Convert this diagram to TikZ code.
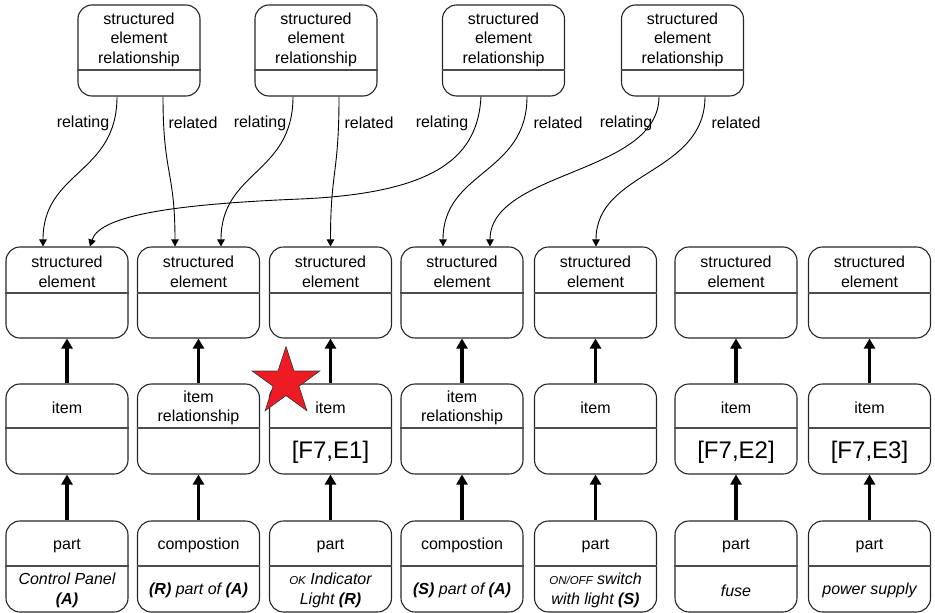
\documentclass[tikz,border=0pt]{standalone}
\usepackage{fontspec}
\setmainfont{Liberation Sans}
\usetikzlibrary{arrows.meta,calc}

\definecolor{starred}{HTML}{ED1C24}

\tikzset{
  box/.style={draw=black!85, line width=1.1pt, rounded corners=14pt,
    minimum width=122pt, inner sep=0pt},
  divider/.style={draw=black!70, line width=1.1pt},
  lbl/.style={align=center, inner sep=0pt, font=\fontsize{16}{19.5}\selectfont},
  link/.style={draw=black, line width=0.9pt, -{Triangle[length=7pt,width=7.5pt]}},
  typeof/.style={draw=black, line width=3.2pt, -{Triangle[length=10pt,width=11pt]}},
  edgelbl/.style={inner sep=0pt, font=\fontsize{16}{19.5}\selectfont},
}

% class box: name, centre x, top, divider, bottom, upper text, lower text
\newcommand\classbox[7]{%
  \node[box, minimum height={#5-#3}] (#1) at (#2,{(#3+#5)/2}) {};
  \draw[divider] (#1.west |- 0,#4) -- (#1.east |- 0,#4);
  \node[lbl] (#1-u) at (#2,{(#3+#4)/2+2}) {#6};
  \node[lbl] (#1-l) at (#2,{(#4+#5)/2+1.5}) {#7};
}
% curved role link from a relationship to a structured element
\newcommand\rolelink[2]{%
  \draw[link] (#1) .. controls ($(#1)+(0,78)$) and ($(#2)+(0,-76)$) .. (#2);
}
\newcommand\sm[1]{{\fontsize{11.5}{12}\selectfont #1}}
\newcommand\bi[1]{\textbf{#1}}
\newcommand\bigtxt[1]{{\fontsize{24}{26}\selectfont #1}}

\begin{document}
\begin{tikzpicture}[x=1pt, y=-1pt]
\useasboundingbox (0,0) rectangle (935,613);

% relationships
\classbox{t1}{139}{5}{70}{96}{structured\\element\\relationship}{}
\classbox{t2}{316}{5}{70}{96}{structured\\element\\relationship}{}
\classbox{t3}{503.5}{5}{70}{96}{structured\\element\\relationship}{}
\classbox{t4}{682.5}{5}{70}{96}{structured\\element\\relationship}{}

% structured elements
\classbox{s1}{67}{247}{293}{338}{structured\\element}{}
\classbox{s2}{198.5}{247}{293}{338}{structured\\element}{}
\classbox{s3}{330.5}{247}{293}{338}{structured\\element}{}
\classbox{s4}{462}{247}{293}{338}{structured\\element}{}
\classbox{s5}{595.5}{247}{293}{338}{structured\\element}{}
\classbox{s6}{736}{247}{293}{338}{structured\\element}{}
\classbox{s7}{869.5}{247}{293}{338}{structured\\element}{}

% items
\classbox{i1}{67}{384}{428}{474}{item}{}
\classbox{i2}{198.5}{384}{428}{474}{item\\relationship}{}
\classbox{i3}{330.5}{384}{428}{474}{item}{\bigtxt{[F7,E1]}}
\classbox{i4}{462}{384}{428}{474}{item\\relationship}{}
\classbox{i5}{595.5}{384}{428}{474}{item}{}
\classbox{i6}{736}{384}{428}{474}{item}{\bigtxt{[F7,E2]}}
\classbox{i7}{869.5}{384}{428}{474}{item}{\bigtxt{[F7,E3]}}

% parts and compositions
\classbox{p1}{67}{521}{566}{612}{part}{\itshape Control Panel\\\itshape\bi{(A)}}
\classbox{p2}{198.5}{521}{566}{612}{compostion}{\itshape\bi{(R)} part of \bi{(A)}}
\classbox{p3}{330.5}{521}{566}{612}{part}{\itshape\sm{OK} Indicator\\\itshape Light \bi{(R)}}
\classbox{p4}{462}{521}{566}{612}{compostion}{\itshape\bi{(S)} part of \bi{(A)}}
\classbox{p5}{595.5}{521}{566}{612}{part}{\itshape\sm{ON/OFF} switch\\\itshape with light \bi{(S)}}
\classbox{p6}{736}{521}{566}{612}{part}{\itshape fuse}
\classbox{p7}{869.5}{521}{566}{612}{part}{\itshape power supply}

% typing arrows
\foreach \k in {1,...,7} {
  \draw[typeof] (p\k.north) -- (i\k.south);
  \draw[typeof] (i\k.north) -- (s\k.south);
}

% role link end points
\coordinate (t1a) at ($(t1.south)+(-22,0)$);
\coordinate (t1b) at ($(t1.south)+(24,0)$);
\coordinate (t2a) at ($(t2.south)+(-23,0)$);
\coordinate (t2b) at ($(t2.south)+(23,0)$);
\coordinate (t3a) at ($(t3.south)+(-22.5,0)$);
\coordinate (t3b) at ($(t3.south)+(23.5,0)$);
\coordinate (t4a) at ($(t4.south)+(-23.5,0)$);
\coordinate (t4b) at ($(t4.south)+(22.5,0)$);
\coordinate (s1a) at ($(s1.north)+(-24,0)$);
\coordinate (s1b) at ($(s1.north)+(23,0)$);
\coordinate (s2a) at ($(s2.north)+(-23.5,0)$);
\coordinate (s2b) at ($(s2.north)+(22.5,0)$);
\coordinate (s3a) at (s3.north);
\coordinate (s4a) at ($(s4.north)+(-19,0)$);
\coordinate (s4b) at ($(s4.north)+(28,0)$);
\coordinate (s5a) at ($(s5.north)+(0.5,0)$);

\rolelink{t1a}{s1a}
\rolelink{t1b}{s2a}
\rolelink{t2a}{s2b}
\rolelink{t2b}{s3a}
\rolelink{t3b}{s4a}
\rolelink{t4a}{s4b}
\rolelink{t4b}{s5a}
\draw[link] (t3a) .. controls ($(t3a)+(-3,58)$) and (440,193) .. (300,199)
  .. controls (180,204) and ($(s1b)+(10,-32)$) .. (s1b);

% role labels
\node[edgelbl] (l1a) at (83,123) {relating};
\node[edgelbl] (l1b) at (193,123) {related};
\node[edgelbl] (l2a) at (260,123) {relating};
\node[edgelbl] (l2b) at (369,123) {related};
\node[edgelbl] (l3a) at (442,123) {relating};
\node[edgelbl] (l3b) at (558,123) {related};
\node[edgelbl] (l4a) at (626,123) {relating};
\node[edgelbl] (l4b) at (736,123) {related};

% highlight star
\begin{scope}[shift={(286,382)}, yscale=-1]
  \draw[fill=starred, draw=black!80, line width=0.6pt]
    (90:35.5) -- (126:13.6) -- (162:35.5) -- (198:13.6) -- (234:35.5) -- (270:13.6)
    -- (306:35.5) -- (342:13.6) -- (18:35.5) -- (54:13.6) -- cycle;
\end{scope}
\end{tikzpicture}
\end{document}
